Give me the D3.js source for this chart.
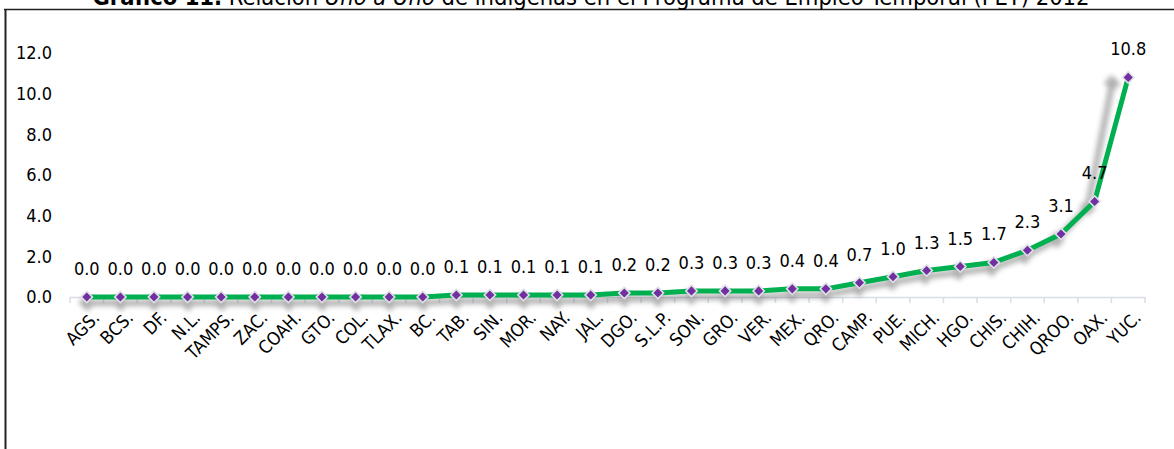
<!DOCTYPE html>
<html>
<head>
<meta charset="utf-8">
<script src="https://cdn.jsdelivr.net/npm/d3@7"></script>
<style>
  body { margin: 0; background: #fff; }
  svg { display: block; font-family: "DejaVu Sans Condensed", "DejaVu Sans", sans-serif; font-stretch: condensed; }
</style>
</head>
<body>
<svg id="chart" width="1174" height="449"></svg>
<script>
// Relación "Uno a Uno" por entidad federativa, PET 2012
const states = ["AGS.", "BCS.", "DF.", "N.L.", "TAMPS.", "ZAC.", "COAH.", "GTO.", "COL.", "TLAX.", "BC.",
  "TAB.", "SIN.", "MOR.", "NAY.", "JAL.", "DGO.", "S.L.P.", "SON.", "GRO.", "VER.", "MEX.", "QRO.",
  "CAMP.", "PUE.", "MICH.", "HGO.", "CHIS.", "CHIH.", "QROO.", "OAX.", "YUC."];
const ratio = [0.0, 0.0, 0.0, 0.0, 0.0, 0.0, 0.0, 0.0, 0.0, 0.0, 0.0,
  0.1, 0.1, 0.1, 0.1, 0.1, 0.2, 0.2, 0.3, 0.3, 0.3, 0.4, 0.4,
  0.7, 1.0, 1.3, 1.5, 1.7, 2.3, 3.1, 4.7, 10.8];
const yTicks = [0, 2, 4, 6, 8, 10, 12];

const data = states.map((s, i) => ({ state: s, value: ratio[i] }));

const svg = d3.select("#chart");

const x = d3.scaleBand().domain(states).range([70, 1145]).padding(0);
const cx = d => x(d) + x.bandwidth() / 2;
const y = d3.scaleLinear().domain([0, 12]).range([297, 53]);

// Frame: top rule and left rule
svg.append("line").attr("x1", 4).attr("x2", 1174).attr("y1", 9.5).attr("y2", 9.5)
  .attr("stroke", "#222").attr("stroke-width", 1.5);
svg.append("line").attr("x1", 5.5).attr("x2", 5.5).attr("y1", 9).attr("y2", 449)
  .attr("stroke", "#222").attr("stroke-width", 2);

// Title (partly above the visible area)
const title = svg.append("text").attr("x", 591).attr("y", 4.5).attr("text-anchor", "middle")
  .attr("font-size", 23.5).attr("fill", "#000");
title.append("tspan").attr("font-weight", "bold").text("Gráfico 11.");
title.append("tspan").text(" Relación ");
title.append("tspan").attr("font-style", "italic").text("Uno a Uno");
title.append("tspan").text(" de indígenas en el Programa de Empleo Temporal (PET) 2012");

// Y axis labels
const yAxis = d3.axisLeft(y).tickValues(yTicks).tickFormat(d3.format(".1f")).tickSize(0).tickPadding(0);
const gy = svg.append("g").attr("transform", "translate(52,0)").call(yAxis);
gy.select(".domain").remove();
gy.selectAll("text").attr("font-size", 18).attr("fill", "#000")
  .attr("font-family", "DejaVu Sans Condensed, DejaVu Sans, sans-serif");

// X axis line with ticks at category boundaries
const axisColor = "#d9dde8";
const gx = svg.append("g");
gx.append("line").attr("x1", x.range()[0]).attr("x2", x.range()[1])
  .attr("y1", y(0) + 0.5).attr("y2", y(0) + 0.5).attr("stroke", axisColor).attr("stroke-width", 1.5);
const bounds = states.map(s => x(s)).concat([x.range()[1]]);
gx.selectAll("line.tick").data(bounds).join("line").attr("class", "tick")
  .attr("x1", d => d).attr("x2", d => d).attr("y1", y(0)).attr("y2", y(0) + 6)
  .attr("stroke", axisColor).attr("stroke-width", 1.5);
gx.selectAll("text").data(states).join("text")
  .attr("transform", d => `translate(${cx(d) + 5},${y(0) + 13}) rotate(-45)`)
  .attr("text-anchor", "end").attr("dy", "0.7em")
  .attr("font-size", 18).attr("fill", "#000").text(d => d);

// Soft skewed shadow under the series
const defs = svg.append("defs");
defs.append("filter").attr("id", "soft").attr("x", "-20%").attr("y", "-20%").attr("width", "140%").attr("height", "140%")
  .append("feGaussianBlur").attr("stdDeviation", 2.5);

const line = d3.line().x(d => cx(d.state)).y(d => y(d.value));
const marker = d3.symbol().type(d3.symbolSquare).size(64);

const base = y(0);
const shadow = svg.append("g").attr("filter", "url(#soft)")
  .attr("transform", `translate(0,${base + 6}) matrix(1,0,0.073,1,0,0) translate(0,${-base})`)
  .attr("opacity", 0.45);
shadow.append("path").datum(data).attr("d", line).attr("fill", "none")
  .attr("stroke", "#555").attr("stroke-width", 6);
shadow.selectAll("path.m").data(data).join("path").attr("class", "m")
  .attr("transform", d => `translate(${cx(d.state)},${y(d.value)}) rotate(45)`)
  .attr("d", d3.symbol().type(d3.symbolSquare).size(140)).attr("fill", "#555");

// Series line
svg.append("path").datum(data).attr("d", line).attr("fill", "none")
  .attr("stroke", "#00b050").attr("stroke-width", 5).attr("stroke-linejoin", "round");

// Markers: rotated squares
svg.selectAll("path.marker").data(data).join("path").attr("class", "marker")
  .attr("transform", d => `translate(${cx(d.state)},${y(d.value)}) rotate(45)`)
  .attr("d", marker).attr("fill", "#7030a0").attr("stroke", "#e2dee8").attr("stroke-width", 1.6);

// Value labels
svg.selectAll("text.val").data(data).join("text").attr("class", "val")
  .attr("x", d => cx(d.state)).attr("y", d => y(d.value) - 22)
  .attr("text-anchor", "middle").attr("font-size", 18).attr("fill", "#000")
  .text(d => d3.format(".1f")(d.value));
</script>
</body>
</html>
